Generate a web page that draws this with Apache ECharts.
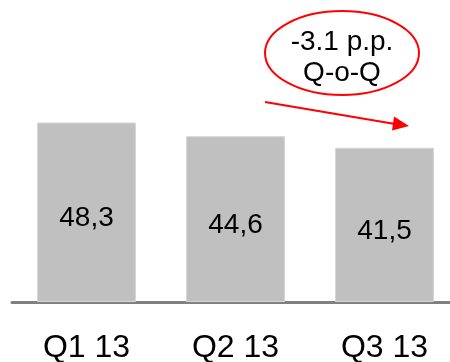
<!DOCTYPE html>
<html>
<head>
<meta charset="utf-8">
<script src="https://cdn.jsdelivr.net/npm/echarts@6/dist/echarts.min.js"></script>
<style>html,body{margin:0;padding:0;background:#fff;overflow:hidden;}#c{width:450px;height:362px;}</style>
</head>
<body>
<div id="c"></div>
<script>
const categories = ['Q1 13', 'Q2 13', 'Q3 13'];
const values = [48.3, 44.6, 41.5];
const annotationLines = ['-3.1 p.p.', 'Q-o-Q'];

const chart = echarts.init(document.getElementById('c'), null, {renderer: 'canvas'});
const font = '"Liberation Sans", Arial, sans-serif';
chart.setOption({
  animation: false,
  grid: {left: 12, right: -9, top: 79, bottom: 60, containLabel: false, outerBoundsMode: 'none'},
  xAxis: {
    type: 'category',
    data: categories,
    axisLine: {lineStyle: {color: '#808080', width: 3}},
    axisTick: {show: false},
    axisLabel: {color: '#000', fontSize: 32, fontFamily: font, margin: 30}
  },
  yAxis: {type: 'value', min: 0, max: 60, show: false, splitLine: {show: false}},
  series: [{
    type: 'bar',
    data: values,
    barWidth: 99,
    itemStyle: {color: '#c0c0c0', borderColor: '#d6d6d6', borderWidth: 1},
    label: {
      show: true, position: 'inside', offset: [0, 6],
      color: '#000', fontSize: 28, fontFamily: font,
      formatter: p => String(p.value).replace('.', ',')
    }
  }],
  graphic: [
    {type: 'ellipse', shape: {cx: 342, cy: 53, rx: 77, ry: 42},
     style: {fill: 'none', stroke: '#ff0000', lineWidth: 2}},
    {type: 'text', x: 342, y: 42, style: {text: annotationLines[0], fill: '#000', font: '28px ' + font, textAlign: 'center', textVerticalAlign: 'middle'}},
    {type: 'text', x: 342, y: 73, style: {text: annotationLines[1], fill: '#000', font: '28px ' + font, textAlign: 'center', textVerticalAlign: 'middle'}},
    {type: 'line', shape: {x1: 265, y1: 102, x2: 395, y2: 124},
     style: {stroke: '#ff0000', lineWidth: 2}},
    {type: 'polygon', shape: {points: [[394, 116.5], [409, 126], [392, 130.5]]},
     style: {fill: '#ff0000'}}
  ]
});
</script>
</body>
</html>
